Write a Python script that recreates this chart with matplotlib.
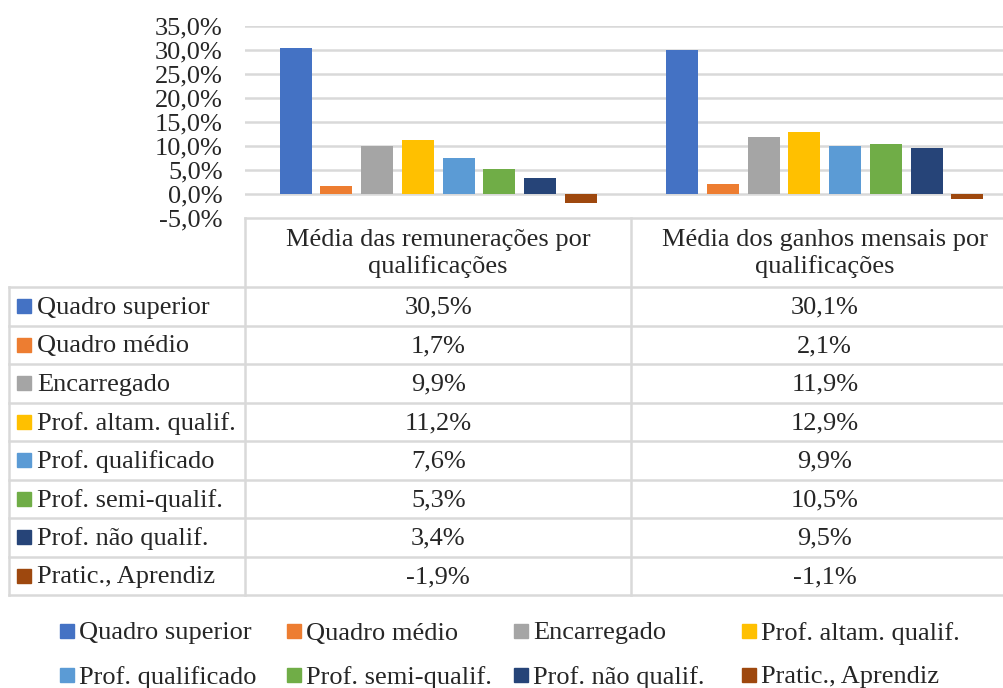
import matplotlib
matplotlib.use("Agg")
import matplotlib.pyplot as plt
from matplotlib.patches import Rectangle
from matplotlib.lines import Line2D
import numpy as np

plt.rcParams['font.family'] = ['Liberation Serif', 'DejaVu Serif']

groups = ["Média das remunerações por\nqualificações", "Média dos ganhos mensais por\nqualificações"]
series = ["Quadro superior", "Quadro médio", "Encarregado", "Prof. altam. qualif.",
          "Prof. qualificado", "Prof. semi-qualif.", "Prof. não qualif.", "Pratic., Aprendiz"]
values_rem = [30.5, 1.7, 9.9, 11.2, 7.6, 5.3, 3.4, -1.9]
values_gan = [30.1, 2.1, 11.9, 12.9, 9.9, 10.5, 9.5, -1.1]
colors = ["#4472C4", "#ED7D31", "#A5A5A5", "#FFC000", "#5B9BD5", "#70AD47", "#264478", "#9E480E"]
yticks = [-5, 0, 5, 10, 15, 20, 25, 30, 35]

W, H = 1004, 688
fig = plt.figure(figsize=(W / 100, H / 100), dpi=100)

# plot area in pixel coords (extends past right edge, as in the cropped original)
cat_w = 386.5
px_left, px_right = 245, 245 + 2 * cat_w
py_top, py_bottom = 26, 218
ax = fig.add_axes([px_left / W, 1 - py_bottom / H, (px_right - px_left) / W, (py_bottom - py_top) / H])
ax.set_xlim(0, 2)
ax.set_ylim(-5, 35)
FS = 19
TXT = "#262626"
grid_c = "#D9D9D9"
for yv in yticks[1:]:
    ax.axhline(yv, color=grid_c, lw=1.8, zorder=0)
ax.set_yticks(yticks)
ax.set_yticklabels([f"{v:.1f}%".replace(".", ",") for v in yticks], fontsize=FS, color=TXT)
ax.tick_params(axis='y', length=0, pad=16)
ax.set_xticks([])
for s in ax.spines.values():
    s.set_visible(False)

data = np.array([values_rem, values_gan])  # groups x series
n = len(series)
step = 40.7 / cat_w
bw = 32 / cat_w
span = step * (n - 1) + bw
for i in range(n):
    xs = np.arange(2) + 0.5 - span / 2 + bw / 2 + step * i
    ax.bar(xs, data[:, i], width=bw, color=colors[i], zorder=2)

# overlay for table and legend
ov = fig.add_axes([0, 0, 1, 1])
ov.set_xlim(0, W)
ov.set_ylim(H, 0)
ov.axis('off')

tc = "#D9D9D9"
tlw = 1.8
col_x = [9, 245, 631, 1004 + 20]
row_y = [218, 287] + [287 + 38.5 * (k + 1) for k in range(n)]
ov.add_line(Line2D([col_x[1], col_x[3]], [row_y[0], row_y[0]], color=tc, lw=tlw))
for yv in row_y[1:]:
    ov.add_line(Line2D([col_x[0], col_x[3]], [yv, yv], color=tc, lw=tlw))
ov.add_line(Line2D([col_x[0], col_x[0]], [row_y[1], row_y[-1]], color=tc, lw=tlw))
for xv in col_x[1:3]:
    ov.add_line(Line2D([xv, xv], [row_y[0], row_y[-1]], color=tc, lw=tlw))

for g, lab in enumerate(groups):
    cx = px_left + cat_w * (g + 0.5)
    ov.text(cx, (row_y[0] + row_y[1]) / 2 + 1, lab, ha='center', va='center',
            fontsize=FS, color=TXT, linespacing=1.25)

for i in range(n):
    yc = (row_y[i + 1] + row_y[i + 2]) / 2
    ov.add_patch(Rectangle((17, yc - 7), 14, 14, color=colors[i]))
    ov.text(37, yc - 1, series[i], ha='left', va='center_baseline', fontsize=FS, color=TXT)
    for g in range(2):
        cx = px_left + cat_w * (g + 0.5)
        ov.text(cx, yc - 1, f"{data[g, i]:.1f}%".replace(".", ","), ha='center',
                va='center_baseline', fontsize=FS, color=TXT)

# legend
leg_x = [60, 287, 514, 742]
leg_y = [631, 675]
for i in range(n):
    lx = leg_x[i % 4]
    ly = leg_y[i // 4]
    ov.add_patch(Rectangle((lx, ly - 7), 14, 14, color=colors[i]))
    ov.text(lx + 19, ly, series[i], ha='left', va='center_baseline', fontsize=FS, color=TXT)

fig.savefig("out.png", dpi=100)
